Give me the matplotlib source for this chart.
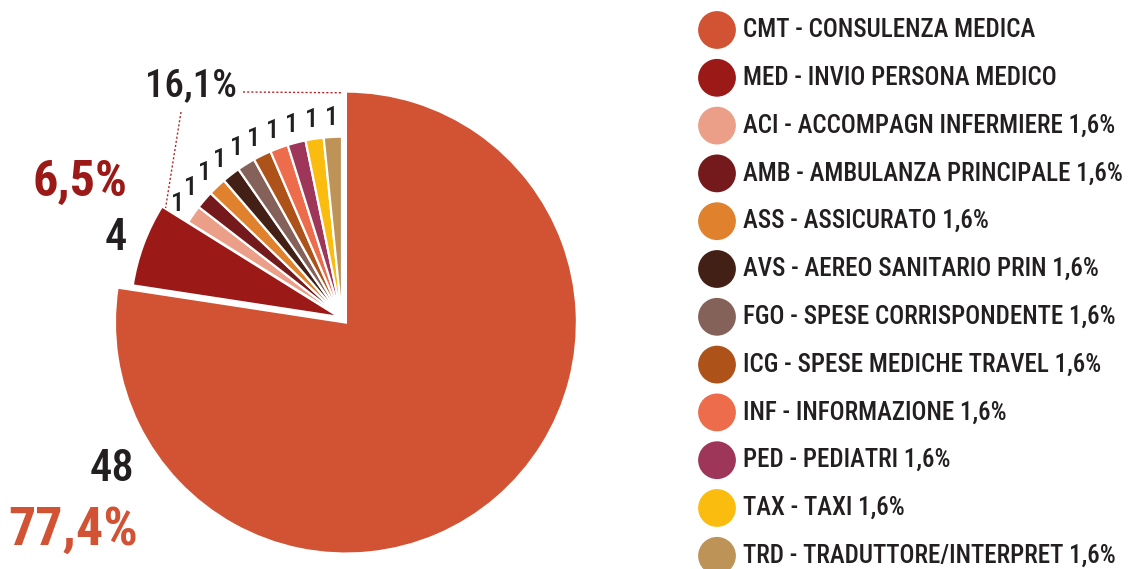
import matplotlib
matplotlib.use('Agg')
import matplotlib.pyplot as plt
import numpy as np

plt.rcParams['font.family'] = ['Roboto Condensed', 'DejaVu Sans']

# services and number of cases
codes = ['CMT', 'MED', 'ACI', 'AMB', 'ASS', 'AVS', 'FGO', 'ICG', 'INF', 'PED', 'TAX', 'TRD']
names = ['CONSULENZA MEDICA', 'INVIO PERSONA MEDICO', 'ACCOMPAGN INFERMIERE',
         'AMBULANZA PRINCIPALE', 'ASSICURATO', 'AEREO SANITARIO PRIN',
         'SPESE CORRISPONDENTE', 'SPESE MEDICHE TRAVEL', 'INFORMAZIONE',
         'PEDIATRI', 'TAXI', 'TRADUTTORE/INTERPRET']
counts = [48, 4, 1, 1, 1, 1, 1, 1, 1, 1, 1, 1]
colors = ['#D15333', '#9B1917', '#EC9F88', '#751A1C', '#E0822D', '#432015',
          '#84625A', '#AD5219', '#EC6C4B', '#9D3658', '#FBBC10', '#BD9358']

W, H = 1129, 569
cx, cy = 342, 318          # pie centre in pixels
unit = 231                 # pixels per unit radius

total = sum(counts)
pct = [c / total * 100 for c in counts]
small_pct = sum(pct[2:])

def fmt(p):
    return f'{p:.1f}'.replace('.', ',') + '%'

fig = plt.figure(figsize=(W / 100, H / 100), dpi=100)
ax = fig.add_axes([0, 0, 1, 1])

explode = [0.026, 0.012] + [0.0] * 10
wedges, _ = ax.pie(counts, colors=colors, startangle=90, counterclock=False,
                   explode=explode, radius=1,
                   wedgeprops=dict(edgecolor='white', linewidth=1.6))
# three rings: main slice, second slice, the small ones
wedges[0].set_radius(1.0)
wedges[1].set_radius(0.905)
for w in wedges[2:]:
    w.set_radius(0.785)

ax.set_xlim(-cx / unit, (W - cx) / unit)
ax.set_ylim(-(H - cy) / unit, cy / unit)
ax.set_aspect('auto')
ax.axis('off')

dark = '#231F20'

# counts on the small slices
for w, c in zip(wedges[2:], counts[2:]):
    a = np.deg2rad((w.theta1 + w.theta2) / 2)
    r = 0.865
    ax.text(r * np.cos(a), r * np.sin(a), str(c), ha='center', va='center',
            fontsize=19, color=dark, fontweight='medium')

# overlay axes in pixel coordinates for labels and legend
ov = fig.add_axes([0, 0, 1, 1])
ov.set_xlim(0, W)
ov.set_ylim(H, 0)
ov.axis('off')

ov.text(73, 530, fmt(pct[0]), fontsize=39, fontweight='bold', color=colors[0],
        ha='center', va='center')
ov.text(112, 469, str(counts[0]), fontsize=32, fontweight='medium', color=dark,
        ha='center', va='center')
ov.text(80, 182, fmt(pct[1]), fontsize=36, fontweight='bold', color=colors[1],
        ha='center', va='center')
ov.text(116, 238, str(counts[1]), fontsize=32, fontweight='medium', color=dark,
        ha='center', va='center')
ov.text(191, 86, fmt(small_pct), fontsize=28, fontweight='medium', color=dark,
        ha='center', va='center')

# dotted leaders for the grouped share
a_start = np.deg2rad(wedges[2].theta2)
a_end = np.deg2rad(wedges[-1].theta1)
ov.plot([243, cx + 0.975 * unit * np.cos(a_end)], [92, cy - 0.975 * unit * np.sin(a_end)],
        ls=(0, (1.5, 1.5)), color='#B0282A', lw=1)
ov.plot([181, cx + 0.9 * unit * np.cos(a_start)], [112, cy - 0.9 * unit * np.sin(a_start)],
        ls=(0, (1.5, 1.5)), color='#B0282A', lw=1)

# legend
for i, (code, name) in enumerate(zip(codes, names)):
    y = 30 + i * 47.8
    ov.scatter([717], [y], s=740, color=colors[i], edgecolors='none')
    label = f'{code} - {name}'
    if i >= 2:
        label += ' ' + fmt(pct[i])
    ov.text(743, y, label, fontsize=18, fontweight='medium', color=dark,
            ha='left', va='center')

fig.savefig('out.png', dpi=100)
